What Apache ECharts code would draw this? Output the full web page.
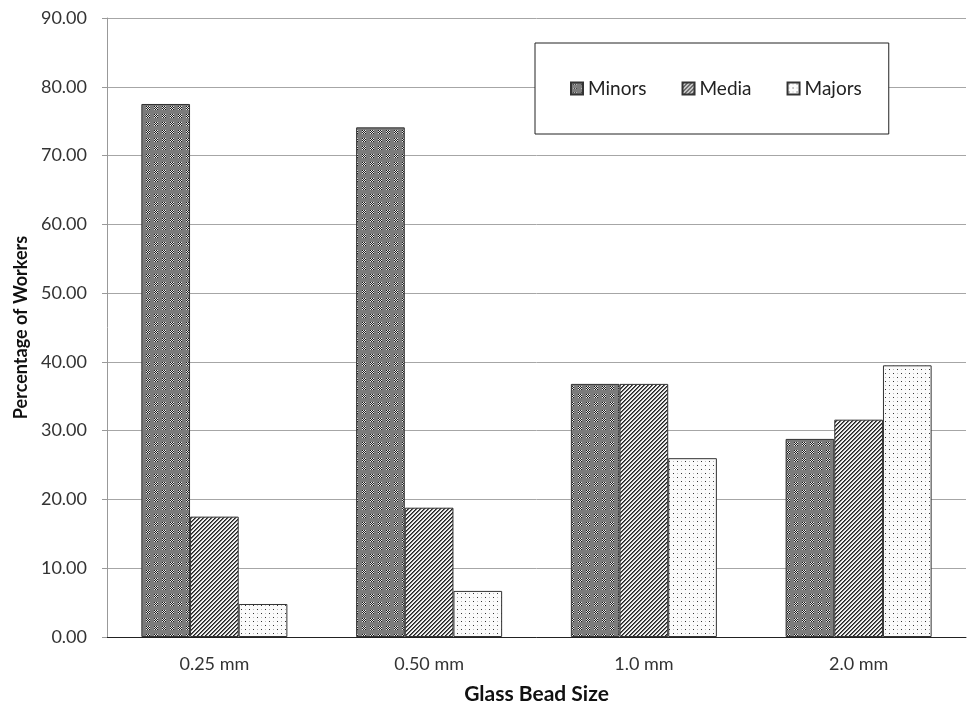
<!DOCTYPE html>
<html>
<head>
<meta charset="utf-8">
<script src="https://cdn.jsdelivr.net/npm/echarts@6/dist/echarts.min.js"></script>
<style>
  html, body { margin: 0; padding: 0; background: #fff; }
  #chart { width: 980px; height: 719px; }
</style>
</head>
<body>
<div id="chart"></div>
<script>
// Worker size class distribution by glass bead size
const categories = ['0.25 mm', '0.50 mm', '1.0 mm', '2.0 mm'];
const minors = [77.5, 74.1, 36.8, 28.8];
const media = [17.5, 18.8, 36.8, 31.6];
const majors = [4.8, 6.7, 26.0, 39.5];
const yTicks = [0, 10, 20, 30, 40, 50, 60, 70, 80, 90];

// Small tiled fills for the three series
function makeTile(size, paint) {
  const c = document.createElement('canvas');
  c.width = size; c.height = size;
  const ctx = c.getContext('2d');
  paint(ctx, size);
  return { image: c, repeat: 'repeat' };
}

// Minors: mid grey with small checkered specks
const minorsFill = makeTile(8, (ctx, s) => {
  ctx.fillStyle = '#7c7c7c';
  ctx.fillRect(0, 0, s, s);
  for (let y = 0; y < 4; y++) {
    for (let x = 0; x < 4; x++) {
      ctx.fillStyle = (x + y) % 2 === 0 ? '#1a1a1a' : '#e8e8e8';
      ctx.fillRect(2 + x, 2 + y, 1, 1);
    }
  }
});

// Media: dense diagonal hatching
const mediaFill = makeTile(4, (ctx, s) => {
  ctx.fillStyle = '#f0f0f0';
  ctx.fillRect(0, 0, s, s);
  for (let y = 0; y < s; y++) {
    for (let x = 0; x < s; x++) {
      if ((x + y) % 4 < 2) {
        ctx.fillStyle = (x + y) % 4 === 0 ? '#222' : '#666';
        ctx.fillRect(x, y, 1, 1);
      }
    }
  }
});

// Majors: white with sparse dots
const majorsFill = makeTile(8, (ctx, s) => {
  ctx.fillStyle = '#fbfbfb';
  ctx.fillRect(0, 0, s, s);
  ctx.fillStyle = '#333';
  ctx.fillRect(1, 1, 1, 1);
  ctx.fillRect(5, 5, 1, 1);
  ctx.fillStyle = '#bbb';
  ctx.fillRect(5, 1, 1, 1);
  ctx.fillRect(1, 5, 1, 1);
});

const fontFamily = 'Lato, "Open Sans", sans-serif';
const barBorder = { borderColor: '#333', borderWidth: 1 };

const chart = echarts.init(document.getElementById('chart'), null, { renderer: 'canvas' });
chart.setOption({
  animation: false,
  backgroundColor: '#fff',
  textStyle: { fontFamily },
  grid: { left: 107, right: 14, top: 18, bottom: 82, containLabel: false },
  legend: {
    left: 535,
    top: 43,
    orient: 'horizontal',
    backgroundColor: '#fff',
    borderColor: '#222',
    borderWidth: 1,
    borderRadius: 0,
    padding: [36, 27, 36, 35],
    itemGap: 35,
    itemWidth: 12,
    itemHeight: 12,
    icon: 'rect',
    textStyle: { fontFamily, fontSize: 19, color: '#222' },
    data: ['Minors', 'Media', 'Majors']
  },
  xAxis: {
    type: 'category',
    data: categories,
    name: 'Glass Bead Size',
    nameLocation: 'middle',
    nameGap: 47,
    nameTextStyle: { fontFamily, fontSize: 21, fontWeight: 'bold', color: '#111' },
    axisLine: { lineStyle: { color: '#222', width: 1 } },
    axisTick: { show: false },
    axisLabel: { fontSize: 18, color: '#333', margin: 18 }
  },
  yAxis: {
    type: 'value',
    min: yTicks[0],
    max: yTicks[yTicks.length - 1],
    interval: 10,
    name: 'Percentage of Workers',
    nameLocation: 'middle',
    nameGap: 76,
    nameRotate: 90,
    nameTextStyle: { fontFamily, fontSize: 18, fontWeight: 'bold', color: '#111' },
    axisLine: { show: true, lineStyle: { color: '#999', width: 1 } },
    axisTick: { show: true, inside: false, length: 5, lineStyle: { color: '#999' } },
    axisLabel: {
      fontSize: 18, color: '#333', margin: 20,
      formatter: v => v.toFixed(2)
    },
    splitLine: { show: true, lineStyle: { color: '#a6a6a6', width: 1 } }
  },
  series: [
    {
      name: 'Minors', type: 'bar', data: minors,
      barGap: '0%', barCategoryGap: '32%',
      itemStyle: Object.assign({ color: minorsFill }, barBorder)
    },
    {
      name: 'Media', type: 'bar', data: media,
      barGap: '0%', barCategoryGap: '32%',
      itemStyle: Object.assign({ color: mediaFill }, barBorder)
    },
    {
      name: 'Majors', type: 'bar', data: majors,
      barGap: '0%', barCategoryGap: '32%',
      itemStyle: Object.assign({ color: majorsFill }, barBorder)
    }
  ]
});
</script>
</body>
</html>
